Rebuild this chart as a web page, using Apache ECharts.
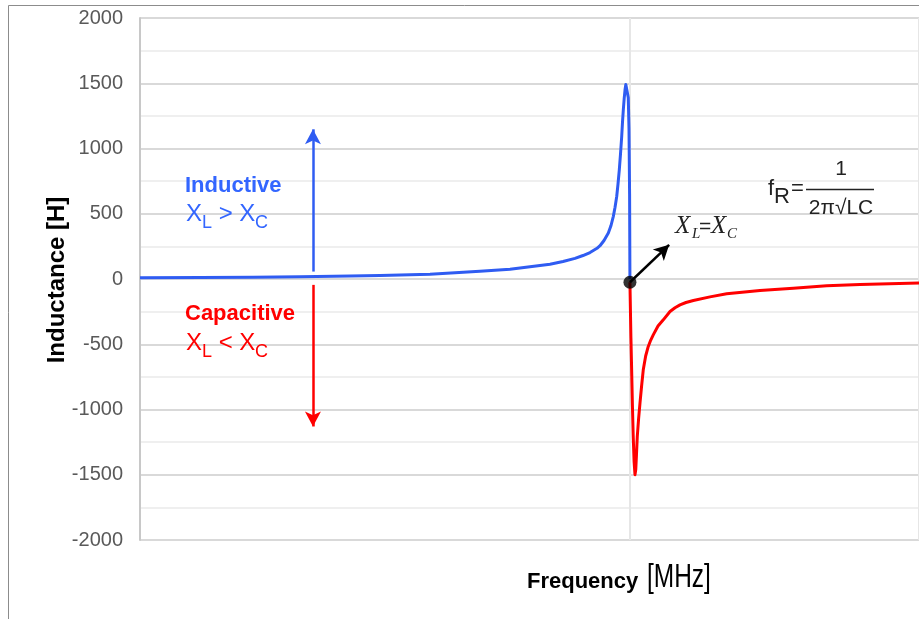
<!DOCTYPE html>
<html>
<head>
<meta charset="utf-8">
<script src="https://cdn.jsdelivr.net/npm/echarts@6/dist/echarts.min.js"></script>
<style>
html, body { margin: 0; padding: 0; background: #fff; }
#chart { width: 919px; height: 619px; }
</style>
</head>
<body>
<div id="chart"></div>
<script>
// frequency in plain units, resonance sits at 10
const blueX = [0, 1.225, 2.306, 3.266, 4.286, 4.899, 5.919, 6.939, 7.552, 7.96, 8.368, 8.634, 8.879, 9.042, 9.185, 9.328, 9.389, 9.471, 9.559, 9.614, 9.661, 9.696, 9.73, 9.757, 9.783, 9.808, 9.832, 9.848, 9.865, 9.883, 9.9, 9.916, 9.934, 9.95, 9.966, 9.981, 9.993, 10];
const blueY = [10, 11, 13, 18, 23, 27, 37, 60, 75, 94, 113, 134, 158, 180, 203, 235, 255, 295, 352, 410, 480, 550, 632, 730, 837, 960, 1092, 1200, 1297, 1385, 1450, 1490, 1502, 1480, 1390, 1150, 650, 0];
const redX = [10, 10.02, 10.035, 10.05, 10.067, 10.085, 10.103, 10.119, 10.133, 10.15, 10.177, 10.205, 10.238, 10.272, 10.321, 10.374, 10.425, 10.476, 10.573, 10.681, 10.818, 10.92, 11.022, 11.144, 11.294, 11.634, 11.975, 12.654, 13.335, 14.017, 14.696, 15.9];
const redY = [-25, -450, -700, -960, -1207, -1400, -1500, -1460, -1350, -1207, -1070, -951, -820, -696, -590, -517, -468, -428, -360, -313, -249, -220, -198, -180, -165, -137, -113, -88, -70, -52, -42, -31];
const yTicks = [-2000, -1500, -1000, -500, 0, 500, 1000, 1500, 2000];
const resonanceX = 10;
const dotPoint = [10, -25];
const upArrow = [[3.53, 57], [3.53, 1147]];
const downArrow = [[3.53, -45], [3.53, -1130]];
const eqArrow = [[10, -25], [10.8, 262]];

const BLUE = '#2f5cf2', RED = '#ff0000';
const SANS = "'Liberation Sans', Arial, sans-serif";
const SERIF = "'Liberation Serif', 'DejaVu Serif', serif";

const zip = (xs, ys) => xs.map((x, i) => [x, ys[i]]);

// text placed by its baseline
function T(x, base, text, size, color, extra, el) {
    return Object.assign({
        type: 'text', x: x, y: base - 0.35 * size, silent: true, z: 100,
        style: Object.assign({
            text: text, fill: color || '#000',
            font: `${size}px ${SANS}`,
            textAlign: 'left', textVerticalAlign: 'middle'
        }, extra || {})
    }, el || {});
}

function arrowLine(pts, color) {
    return [{ coord: pts[0], symbol: 'none' }, { coord: pts[1], symbol: 'arrow', symbolSize: [12, 15], lineStyle: { color: color } }];
}

const chart = echarts.init(document.getElementById('chart'));
const option = {
    animation: false,
    backgroundColor: '#fff',
    grid: { left: 140, top: 18, right: 0, bottom: 79, containLabel: false },
    xAxis: {
        // only tick is the resonance line
        type: 'value', min: 0, max: 15.9, interval: resonanceX,
        axisLine: { show: false }, axisTick: { show: false }, axisLabel: { show: false },
        splitLine: { show: true, lineStyle: { color: '#e6e6e6', width: 2 } }
    },
    yAxis: {
        type: 'value', min: -2000, max: 2000, interval: 500,
        axisLine: { show: true, onZero: false, lineStyle: { color: '#c8c8c8', width: 2 } },
        axisTick: { show: false },
        axisLabel: {
            margin: 17, color: '#595959', fontSize: 20, fontFamily: SANS,
            formatter: v => yTicks.includes(v) ? String(v) : ''
        },
        splitLine: { lineStyle: { color: '#d9d9d9', width: 2 } },
        minorTick: { show: false, splitNumber: 2 },
        minorSplitLine: { show: true, lineStyle: { color: '#efefef', width: 2 } }
    },
    series: [
        {
            type: 'line', data: zip(blueX, blueY), showSymbol: false, silent: true,
            lineStyle: { color: BLUE, width: 3, join: 'round' }, z: 3
        },
        {
            type: 'line', data: zip(redX, redY), showSymbol: false, silent: true,
            lineStyle: { color: RED, width: 3, join: 'round' }, z: 3
        },
        {
            type: 'line', data: [], z: 4, silent: true,
            markLine: {
                silent: true, label: { show: false },
                lineStyle: { width: 2.5, type: 'solid' },
                data: [arrowLine(upArrow, BLUE), arrowLine(downArrow, RED), arrowLine(eqArrow, '#000')]
            }
        },
        {
            type: 'scatter', data: [dotPoint], symbolSize: 13, silent: true, z: 6,
            itemStyle: { color: '#000' }
        }
    ],
    graphic: [
        { type: 'rect', silent: true, z: 0, shape: { x: 8.5, y: 5.5, width: 930, height: 630 }, style: { fill: null, stroke: '#8c8c8c', lineWidth: 1 } },

        {
            type: 'text', x: 57, y: 280, rotation: Math.PI / 2, silent: true, z: 100,
            style: { text: 'Inductance [H]', fill: '#000', font: `bold 24px ${SANS}`, textAlign: 'center', textVerticalAlign: 'middle' }
        },

        T(185, 194, 'Inductive', 22, '#3366ff', { font: `bold 22px ${SANS}` }),
        T(186, 223, 'X', 24, '#3366ff'),
        T(202, 229, 'L', 18, '#3366ff'),
        T(212, 223, ' > X', 24, '#3366ff'),
        T(255, 229, 'C', 18, '#3366ff'),

        T(185, 322, 'Capacitive', 22, RED, { font: `bold 22px ${SANS}` }),
        T(186, 352, 'X', 24, RED),
        T(202, 358, 'L', 18, RED),
        T(212, 352, ' < X', 24, RED),
        T(255, 358, 'C', 18, RED),

        T(675, 235, 'X', 25, '#222', { font: `italic 25px ${SERIF}` }),
        T(692, 239, 'L', 15, '#222', { font: `italic 15px ${SERIF}` }),
        T(699, 235, '=', 21, '#222'),
        T(711, 235, 'X', 25, '#222', { font: `italic 25px ${SERIF}` }),
        T(727, 239, 'C', 15, '#222', { font: `italic 15px ${SERIF}` }),

        T(768, 197, 'f', 22, '#222'),
        T(774, 205, 'R', 22, '#222'),
        T(791, 197, '=', 22, '#222'),
        { type: 'line', silent: true, z: 100, shape: { x1: 806, y1: 189.5, x2: 874, y2: 189.5 }, style: { stroke: '#222', lineWidth: 1.3 } },
        T(841, 177, '1', 21, '#222', { textAlign: 'center' }),
        T(841, 216, '2π√LC', 21, '#222', { textAlign: 'center' }),

        T(527, 590, 'Frequency', 22, '#000', { font: `bold 22px ${SANS}` }),
        T(647, 590, '[MHz]', 34, '#000', { font: `34px ${SANS}` }, { scaleX: 0.72 })
    ]
};
chart.setOption(option);
window.addEventListener('resize', () => chart.resize());
</script>
</body>
</html>
